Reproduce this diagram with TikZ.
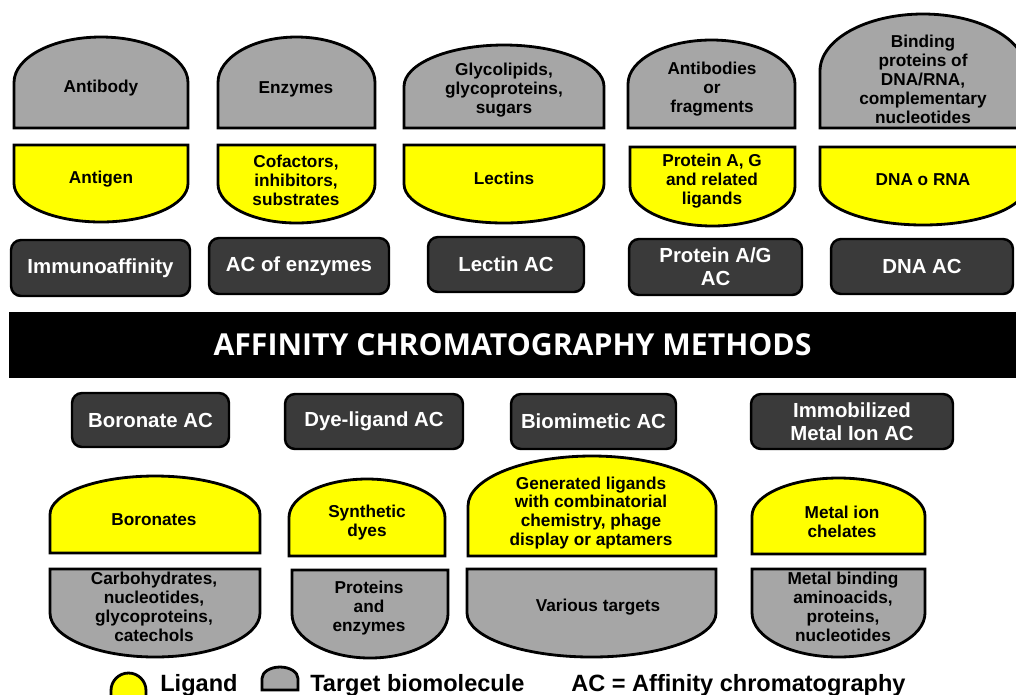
\documentclass[tikz,border=0pt]{standalone}
\usepackage{fontspec}
\setmainfont{Liberation Sans}
\newfontfamily\bannerfont{Open Sans}
\definecolor{ligandyellow}{HTML}{FFFF00}
\definecolor{targetgray}{HTML}{A6A6A6}
\definecolor{methodgray}{HTML}{3A3A3A}
% #1 left, #2 right, #3 top, #4 bottom, #5 fill
\newcommand{\domeshape}[5]{%
  \draw[shapeline, fill=#5] (#1,#4) -- (#1,{(#3+#4)/2})
    .. controls (#1,{(#3+#4)/2-0.276*(#4-#3)}) and ({(#1+#2)/2-0.276*(#2-#1)},#3) .. ({(#1+#2)/2},#3)
    .. controls ({(#1+#2)/2+0.276*(#2-#1)},#3) and (#2,{(#3+#4)/2-0.276*(#4-#3)}) .. (#2,{(#3+#4)/2})
    -- (#2,#4) -- cycle;}
\newcommand{\bowlshape}[5]{%
  \draw[shapeline, fill=#5] (#1,#3) -- (#1,{(#3+#4)/2})
    .. controls (#1,{(#3+#4)/2+0.276*(#4-#3)}) and ({(#1+#2)/2-0.276*(#2-#1)},#4) .. ({(#1+#2)/2},#4)
    .. controls ({(#1+#2)/2+0.276*(#2-#1)},#4) and (#2,{(#3+#4)/2+0.276*(#4-#3)}) .. (#2,{(#3+#4)/2})
    -- (#2,#3) -- cycle;}
\begin{document}
\begin{tikzpicture}[x=0.02cm, y=-0.02cm,
    shapeline/.style={draw=black, line width=1.6pt},
    lbl/.style={font=\bfseries\fontsize{9.8}{10.8}\selectfont, align=center, inner sep=0pt},
    method/.style={draw=black, line width=1.4pt, fill=methodgray, rounded corners=0.2cm, text=white,
      font=\bfseries\fontsize{11.6}{12.9}\selectfont, align=center},
    legend/.style={font=\bfseries\fontsize{13.4}{15}\selectfont, inner sep=0pt, anchor=base west}]
    \useasboundingbox (0,0) rectangle (1016,694);

    % target biomolecules, top row
    \domeshape{14}{188}{37}{128}{targetgray}
    \domeshape{218}{375}{37}{128}{targetgray}
    \domeshape{404}{604}{45}{128}{targetgray}
    \domeshape{628}{795}{40}{128}{targetgray}
    \domeshape{820}{1026}{14}{128}{targetgray}
    \node[lbl] (antibody) at (101,88) {Antibody};
    \node[lbl] (enzymes) at (296,89) {Enzymes};
    \node[lbl] (glyco) at (504,90) {Glycolipids,\\glycoproteins,\\sugars};
    \node[lbl] (antibodies) at (712,89) {Antibodies\\or\\fragments};
    \node[lbl] (binding) at (923,79) {Binding\\proteins of\\DNA/RNA,\\complementary\\nucleotides};

    % ligands, top row
    \bowlshape{14}{188}{145}{222}{ligandyellow}
    \bowlshape{218}{375}{145}{223}{ligandyellow}
    \bowlshape{404}{604}{145}{223}{ligandyellow}
    \bowlshape{630}{795}{147}{226}{ligandyellow}
    \bowlshape{820}{1026}{147}{225}{ligandyellow}
    \node[lbl] (antigen) at (101,179) {Antigen};
    \node[lbl] (cofactors) at (296,180) {Cofactors,\\inhibitors,\\substrates};
    \node[lbl] (lectins) at (504,178) {Lectins};
    \node[lbl] (proteinag) at (712,181) {Protein A, G\\and related\\ligands};
    \node[lbl] (dnarna) at (923,180) {DNA o RNA};

    % methods, top row
    \node[method, minimum width=3.58cm, minimum height=1.12cm] (immuno) at (100.5,268) {Immunoaffinity};
    \node[method, minimum width=3.6cm, minimum height=1.12cm] (enzymeac) at (299,266) {AC of enzymes};
    \node[method, minimum width=3.12cm, minimum height=1.1cm] (lectinac) at (506,264.5) {Lectin AC};
    \node[method, minimum width=3.46cm, minimum height=1.12cm] (proteinac) at (715.5,267) {Protein A/G\\AC};
    \node[method, minimum width=3.64cm, minimum height=1.1cm] (dnaac) at (922,266.5) {DNA AC};

    \node[fill=black, text=white, minimum width=20.14cm, minimum height=1.32cm,
      font=\bannerfont\bfseries\fontsize{17.2}{19}\selectfont] (banner) at (512.5,345) {AFFINITY CHROMATOGRAPHY METHODS};

    % methods, bottom row
    \node[method, minimum width=3.14cm, minimum height=1.08cm] (boronateac) at (150.5,420) {Boronate AC};
    \node[method, minimum width=3.56cm, minimum height=1.1cm] (dyeac) at (374,421.5) {Dye-ligand AC};
    \node[method, minimum width=3.3cm, minimum height=1.1cm] (biomimac) at (593.5,421.5) {Biomimetic AC};
    \node[method, minimum width=4.04cm, minimum height=1.1cm] (imac) at (852,421.5) {Immobilized\\Metal Ion AC};

    % ligands, bottom row
    \domeshape{50}{260}{476}{553}{ligandyellow}
    \domeshape{289}{445}{479}{556}{ligandyellow}
    \domeshape{468}{716}{456}{556}{ligandyellow}
    \domeshape{752}{925}{478}{554}{ligandyellow}
    \node[lbl] (boronates) at (154,520) {Boronates};
    \node[lbl] (dyes) at (367,523) {Synthetic\\dyes};
    \node[lbl] (generated) at (591,513) {Generated ligands\\with combinatorial\\chemistry, phage\\display or aptamers};
    \node[lbl] (chelates) at (842,522) {Metal ion\\chelates};

    % target biomolecules, bottom row
    \bowlshape{50}{260}{569}{657}{targetgray}
    \bowlshape{292}{448}{570}{658}{targetgray}
    \bowlshape{467}{716}{569}{657}{targetgray}
    \bowlshape{752}{925}{569}{657}{targetgray}
    \node[lbl] (carbo) at (154,607) {Carbohydrates,\\nucleotides,\\glycoproteins,\\catechols};
    \node[lbl] (proteins) at (369,608) {Proteins\\and\\enzymes};
    \node[lbl] (various) at (598,607) {Various targets};
    \node[lbl] (metalbind) at (843,607) {Metal binding\\aminoacids,\\proteins,\\nucleotides};

    % legend
    \domeshape{111}{146}{673}{708}{ligandyellow}
    \domeshape{262}{298}{667}{690}{targetgray}
    \node[legend] (ligandkey) at (160,691) {Ligand};
    \node[legend] (targetkey) at (310,691) {Target biomolecule};
    \node[legend] (ackey) at (571,691) {AC = Affinity chromatography};
\end{tikzpicture}
\end{document}
